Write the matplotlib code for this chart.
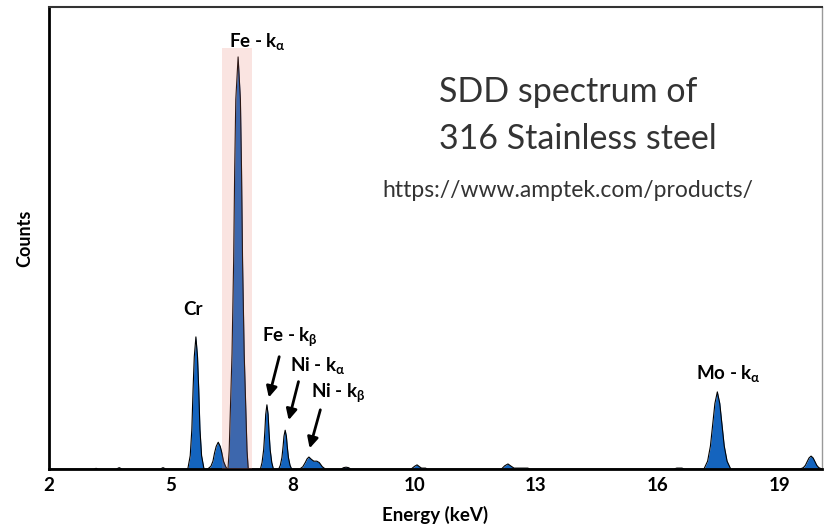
import numpy as np
import matplotlib
matplotlib.use("Agg")
import matplotlib.pyplot as plt

plt.rcParams['font.family'] = ['Lato', 'DejaVu Sans']
plt.rcParams['mathtext.default'] = 'regular'

# x axis labels are evenly spaced but not evenly valued (as in the source figure)
tick_vals = [2, 5, 8, 10, 13, 16, 19]
tick_labels = ['2', '5', '8', '10', '13', '16', '19']

# traced spectrum (energy in keV, counts in arbitrary units)
energy_kev = [
    2.00,
    3.10, 3.16, 3.22,
    3.66, 3.73, 3.80,
    4.74, 4.81, 4.88,
    5.42, 5.48, 5.52, 5.55, 5.58, 5.62, 5.66, 5.69, 5.72, 5.76, 5.82,        # Cr
    5.91, 5.99, 6.04, 6.08, 6.12, 6.17, 6.22, 6.26, 6.30, 6.35, 6.39,        # Cr kb
    6.41, 6.44, 6.46, 6.51, 6.55, 6.576, 6.603, 6.66, 6.717, 6.744, 6.77,     # Fe ka
    6.81, 6.86, 6.88, 6.91,
    7.21, 7.25, 7.29, 7.32, 7.34, 7.37, 7.40, 7.42, 7.45, 7.49, 7.53,        # Fe kb
    7.66, 7.70, 7.74, 7.77, 7.79, 7.82, 7.85, 7.87, 7.90, 7.94, 7.98,        # Ni ka
    8.12, 8.17, 8.21, 8.24, 8.27, 8.31, 8.35, 8.40, 8.44, 8.49, 8.54,        # Ni kb
    8.80, 8.84, 8.88, 8.92, 8.96,
    9.95, 10.01, 10.07, 10.13, 10.18, 10.28, 10.32,
    12.15, 12.23, 12.31, 12.39, 12.46, 12.80, 12.85,
    16.40, 16.47, 16.60, 16.65,
    17.14, 17.23, 17.30, 17.36, 17.41, 17.47, 17.53, 17.58, 17.64, 17.71, 17.80,  # Mo ka
    19.51, 19.59, 19.64, 19.69, 19.73, 19.78, 19.83, 19.87, 19.92, 19.97, 20.05,
]
counts = [
    0,
    0, 1.5, 0,
    0, 3, 0,
    0, 3, 0,
    0, 29, 86, 172, 243, 286, 243, 172, 86, 29, 0,
    0, 6, 17, 35, 49, 58, 49, 35, 17, 6, 0,
    0, 40, 100, 250, 450, 650, 800, 892, 800, 650, 450,
    250, 100, 40, 0,
    0, 14, 42, 83, 118, 139, 118, 83, 42, 14, 0,
    0, 8, 25, 50, 71, 84, 71, 50, 25, 8, 0,
    0, 5, 14, 22, 26, 21, 17, 17, 14, 5, 0,
    0, 3, 4, 3, 0,
    0, 6, 9, 5, 2, 2, 0,
    0, 7, 11, 6, 2, 2, 0,
    0, 2, 2, 0,
    0, 17, 50, 100, 142, 167, 142, 100, 50, 17, 0,
    0, 3, 8, 17, 24, 28, 24, 17, 8, 3, 0,
]

# piecewise scale so the labelled ticks sit evenly
scale_vals = np.array([-1] + tick_vals + [22], dtype=float)
scale_idx = np.arange(-1, len(tick_vals) + 1, dtype=float)


def fwd(x):
    return np.interp(x, scale_vals, scale_idx)


def inv(u):
    return np.interp(u, scale_idx, scale_vals)


fig = plt.figure(figsize=(8.25, 5.27), dpi=100)
ax = fig.add_axes([0.0594, 0.110, 0.9370, 0.8767])
ax.set_xscale('function', functions=(fwd, inv))

blue = '#1464be'
ax.fill_between(energy_kev, counts, color=blue, lw=0, zorder=2)
ax.plot(energy_kev, counts, color='black', lw=0.8, zorder=3)

# highlight band over Fe k-alpha
ax.axvspan(6.27, 7.00, ymin=0, ymax=0.911, color='#e67869', alpha=0.2, lw=0, zorder=4)

ax.set_xlim(2, 20.05)
ax.set_ylim(0, 1000)
ax.set_xticks(tick_vals)
ax.set_xticklabels(tick_labels, fontsize=13.5, fontweight='bold')
ax.set_yticks([])
ax.tick_params(axis='x', length=0, pad=6)

for s in ['left', 'bottom']:
    ax.spines[s].set_linewidth(2)
    ax.spines[s].set_color('black')
ax.spines['top'].set_color('#333333')
ax.spines['top'].set_linewidth(1.5)
ax.spines['right'].set_color('#999999')
ax.spines['right'].set_linewidth(1)

ax.set_xlabel('Energy (keV)', fontsize=13.5, fontweight='bold', labelpad=8)
ax.set_ylabel('Counts', fontsize=13, fontweight='bold', labelpad=11)

lab = dict(fontsize=13.5, fontweight='bold', ha='center', va='center', zorder=5)
ax.text(7.13, 926, r'Fe - k$_\alpha$', **lab)
ax.text(5.55, 346, 'Cr', **lab)
ax.text(7.94, 286, r'Fe - k$_\beta$', **lab)
ax.text(8.42, 225, r'Ni - k$_\alpha$', **lab)
ax.text(8.75, 165, r'Ni - k$_\beta$', **lab)
ax.text(17.74, 206, r'Mo - k$_\alpha$', **lab)

arr = dict(arrowstyle='-|>', color='black', lw=2, mutation_scale=16)
ax.annotate('', xy=(7.40, 149), xytext=(7.69, 249), arrowprops=arr)
ax.annotate('', xy=(7.89, 100), xytext=(8.11, 195), arrowprops=arr)
ax.annotate('', xy=(8.27, 39), xytext=(8.47, 134), arrowprops=arr)

fig.text(439 / 825, 1 - 92 / 527, 'SDD spectrum of', fontsize=24.5, color='#333333',
         ha='left', va='center')
fig.text(439 / 825, 1 - 139 / 527, '316 Stainless steel', fontsize=24.5, color='#333333',
         ha='left', va='center')
fig.text(382 / 825, 1 - 190 / 527, 'https://www.amptek.com/products/', fontsize=16.5,
         color='#333333', ha='left', va='center')

fig.savefig('out.png', dpi=100)
